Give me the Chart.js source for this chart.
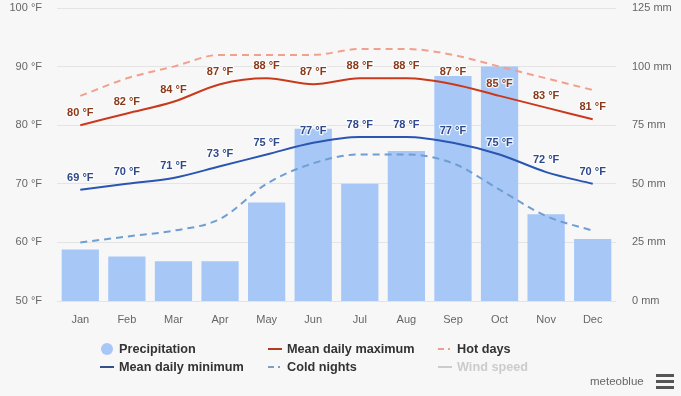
<!DOCTYPE html>
<html>
<head>
<meta charset="utf-8">
<script src="https://cdn.jsdelivr.net/npm/chart.js@4"></script>
<style>
    body { margin: 0; background: #f7f7f7; }
    #wrap { position: relative; width: 681px; height: 396px; }
    #legend { position: absolute; left: 0; top: 340px; width: 681px; font: bold 12.7px "Liberation Sans", Arial, sans-serif; color: #333; }
    .item { position: absolute; height: 18px; line-height: 18px; white-space: nowrap; }
    .item svg { position: absolute; left: 0; top: 1px; }
    .item span { position: absolute; left: 19px; }
    .off { color: #ccc; }
    #brand { position: absolute; left: 590px; top: 375px; font: 11.5px "Liberation Sans", Arial, sans-serif; color: #666; }
</style>
</head>
<body>
<div id="wrap">
    <canvas id="climateChart" width="681" height="396"></canvas>
    <div id="legend"></div>
    <div id="brand">meteoblue</div>
</div>
<script>
const months = ['Jan', 'Feb', 'Mar', 'Apr', 'May', 'Jun', 'Jul', 'Aug', 'Sep', 'Oct', 'Nov', 'Dec'];
const precipitation = [22, 19, 17, 17, 42, 73.5, 50, 64, 96, 100, 37, 26.5];
const meanMax = [80, 82, 84, 87, 88, 87, 88, 88, 87, 85, 83, 81];
const meanMin = [69, 70, 71, 73, 75, 77, 78, 78, 77, 75, 72, 70];
const hotDays = [85, 88, 90, 92, 92, 92, 93, 93, 92, 90, 88, 86];
const coldNights = [60, 61, 62, 64, 70, 73.5, 75, 75, 73.5, 69, 64.5, 62];
const tempTicks = [50, 60, 70, 80, 90, 100];
const rainTicks = [0, 25, 50, 75, 100, 125];

// draws the "88 °F" labels above the two mean lines
const pointLabels = {
    id: 'pointLabels',
    afterDatasetsDraw(chart) {
        const ctx = chart.ctx;
        ctx.save();
        ctx.font = 'bold 11px "Liberation Sans", Arial, sans-serif';
        ctx.textAlign = 'center';
        ctx.textBaseline = 'middle';
        ctx.lineJoin = 'round';
        chart.data.datasets.forEach((ds, i) => {
            if (!ds.labelColor) return;
            const meta = chart.getDatasetMeta(i);
            meta.data.forEach((pt, j) => {
                const text = ds.data[j] + ' °F';
                ctx.lineWidth = 2.5;
                ctx.strokeStyle = 'rgba(255,255,255,0.8)';
                ctx.strokeText(text, pt.x, pt.y - 12);
                ctx.fillStyle = ds.labelColor;
                ctx.fillText(text, pt.x, pt.y - 12);
            });
        });
        ctx.restore();
    }
};

function lineSet(label, data, color, dashed, labelColor) {
    return {
        type: 'line',
        label: label,
        data: data,
        yAxisID: 'yTemp',
        borderColor: color,
        borderWidth: 2,
        borderDash: dashed ? [7, 5] : [],
        pointRadius: 0,
        fill: false,
        cubicInterpolationMode: 'monotone',
        labelColor: labelColor,
        order: 0,
    };
}

// the tick padding would otherwise push the plot area down
function fixSide(width) {
    return (scale) => {
        scale.width = width;
        scale.paddingTop = 0;
        scale.paddingBottom = 0;
    };
}

const ctx = document.getElementById('climateChart').getContext('2d');
new Chart(ctx, {
    data: {
        labels: months,
        datasets: [
            lineSet('Mean daily maximum', meanMax, '#c93a1c', false, '#8a3a18'),
            lineSet('Mean daily minimum', meanMin, '#2a55b0', false, '#2e4a8c'),
            lineSet('Hot days', hotDays, '#f2a08e', true, null),
            lineSet('Cold nights', coldNights, '#6f9fd2', true, null),
            {
                type: 'bar',
                label: 'Precipitation',
                data: precipitation,
                yAxisID: 'yRain',
                backgroundColor: '#a7c7f7',
                barPercentage: 0.8,
                categoryPercentage: 1,
                order: 1,
            },
        ]
    },
    options: {
        responsive: false,
        animation: false,
        layout: { padding: { top: 8 } },
        plugins: { legend: { display: false }, tooltip: { enabled: false } },
        scales: {
            x: {
                grid: { display: false },
                border: { display: false },
                ticks: { color: '#666', padding: 4, font: { size: 11, family: '"Liberation Sans", Arial, sans-serif' } },
                afterFit: (scale) => { scale.height = 95; },
            },
            yTemp: {
                position: 'left',
                min: 50, max: 100,
                afterBuildTicks: (scale) => { scale.ticks = tempTicks.map(v => ({ value: v })); },
                grid: { color: '#e4e4e4', drawTicks: false },
                border: { display: false },
                ticks: { color: '#666', padding: 15, font: { size: 11, family: '"Liberation Sans", Arial, sans-serif' }, callback: (v) => v + ' °F' },
                afterFit: fixSide(57),
            },
            yRain: {
                position: 'right',
                min: 0, max: 125,
                afterBuildTicks: (scale) => { scale.ticks = rainTicks.map(v => ({ value: v })); },
                grid: { display: false, drawTicks: false },
                border: { display: false },
                ticks: { color: '#666', padding: 16, font: { size: 11, family: '"Liberation Sans", Arial, sans-serif' }, callback: (v) => v + ' mm' },
                afterFit: fixSide(65),
            },
        }
    },
    plugins: [pointLabels],
});

// legend laid out in three columns like the original
const legendItems = [
    { text: 'Precipitation', x: 100, y: 0, kind: 'dot', color: '#a7c7f7' },
    { text: 'Mean daily maximum', x: 268, y: 0, kind: 'line', color: '#b53a22' },
    { text: 'Hot days', x: 438, y: 0, kind: 'dash', color: '#f2a08e' },
    { text: 'Mean daily minimum', x: 100, y: 18, kind: 'line', color: '#34508a' },
    { text: 'Cold nights', x: 268, y: 18, kind: 'dash', color: '#7e9fc2' },
    { text: 'Wind speed', x: 438, y: 18, kind: 'line', color: '#ccc', off: true },
];
const legend = document.getElementById('legend');
legendItems.forEach((it) => {
    let icon;
    if (it.kind === 'dot') icon = `<circle cx="7" cy="8" r="6" fill="${it.color}"/>`;
    else if (it.kind === 'line') icon = `<line x1="0" y1="8" x2="14" y2="8" stroke="${it.color}" stroke-width="2"/>`;
    else icon = `<line x1="0" y1="8" x2="14" y2="8" stroke="${it.color}" stroke-width="2" stroke-dasharray="6 4 2 4"/>`;
    const div = document.createElement('div');
    div.className = 'item' + (it.off ? ' off' : '');
    div.style.left = it.x + 'px';
    div.style.top = it.y + 'px';
    div.innerHTML = `<svg width="16" height="16">${icon}</svg><span>${it.text}</span>`;
    legend.appendChild(div);
});
</script>
<svg style="position:absolute;left:656px;top:373px" width="18" height="16">
    <rect x="0" y="1" width="18" height="3" fill="#555"/>
    <rect x="0" y="7" width="18" height="3" fill="#555"/>
    <rect x="0" y="13" width="18" height="3" fill="#555"/>
</svg>
</body>
</html>
